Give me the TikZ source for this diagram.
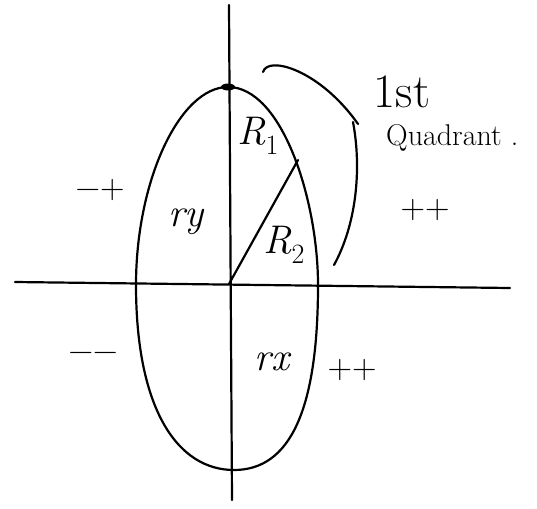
\documentclass[tikz,border=0pt]{standalone}
\begin{document}
\begin{tikzpicture}[x=1pt,y=-1pt,
  ink/.style={line width=2.2pt,line cap=round,line join=round},
  lbl/.style={inner sep=0pt,font=\fontsize{34}{38}\selectfont},
  big/.style={inner sep=0pt,font=\fontsize{40}{44}\selectfont\itshape}]
\useasboundingbox[fill=white] (0,0) rectangle (537,508);
% axes
\coordinate (ytop) at (229,5);
\coordinate (ybot) at (232,500);
\coordinate (xl) at (15,282);
\coordinate (xr) at (510,288);
\coordinate (o) at (229,284);
\draw[ink] (ytop) -- (ybot);
\draw[ink] (xl) -- (xr);
% ellipse (egg shape)
\coordinate (et) at (228,87);
\coordinate (er) at (318,285);
\coordinate (eb) at (234,470);
\coordinate (el) at (136,285);
\draw[ink] (et) .. controls (282,87) and (318,200) .. (er)
  .. controls (318,410) and (290,470) .. (eb)
  .. controls (178,470) and (136,410) .. (el)
  .. controls (136,180) and (180,87) .. (et) -- cycle;
\fill (et) ellipse (7pt and 3.5pt);
% radius line
\coordinate (p) at (298,160);
\draw[ink] (o) -- (p);
% brace
\coordinate (b1) at (263,72);
\coordinate (bc) at (358,124);
\coordinate (b2) at (334,265);
\draw[ink] (b1) .. controls (268,55) and (320,70) .. (bc);
\draw[ink] (353,122) .. controls (362,170) and (356,225) .. (b2);
% labels
\node[big] (R1) at (258,136) {R\textsubscript{\upshape 1}};
\node[big] (R2) at (284,245) {R\textsubscript{\upshape 2}};
\node[big] (ry) at (186,222) {ry};
\node[big] (rx) at (272,362) {rx};
\node[lbl] (mp) at (100,190) {−+};
\node[lbl] (pp1) at (425,210) {++};
\node[lbl] (mm) at (93,357) {−−};
\node[lbl] (pp2) at (352,370) {++};
\node[inner sep=0pt,font=\fontsize{48}{52}\selectfont] (first) at (402,92) {1st};
\node[inner sep=0pt,font=\fontsize{30}{34}\selectfont,anchor=west] (quad) at (386,138) {Quadrant .};
\end{tikzpicture}
\end{document}
